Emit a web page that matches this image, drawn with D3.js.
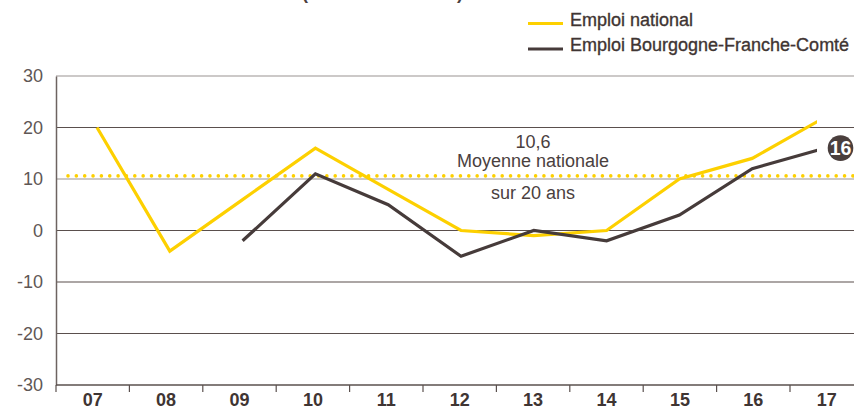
<!DOCTYPE html>
<html>
<head>
<meta charset="utf-8">
<script src="https://cdn.jsdelivr.net/npm/d3@7"></script>
<style>
  body { margin: 0; background: #fff; }
  text { font-family: "Liberation Sans", Arial, sans-serif; }
</style>
</head>
<body>
<div id="chart"></div>
<script>
// Data
var years = ["07", "08", "09", "10", "11", "12", "13", "14", "15", "16", "17"];
var national = [20, -4, 6, 16, 8, 0, -1, 0, 10, 14, 22];
var region = [null, null, -2, 11, 5, -5, 0, -2, 3, 12, 16];
var yTicks = [-30, -20, -10, 0, 10, 20, 30];
var moyenne = 10.6;
var legendLabels = ["Emploi national", "Emploi Bourgogne-Franche-Comté"];

var svgWidth = 854;
var svgHeight = 407;

var yellow = "#fdd000";
var brown = "#463b3a";

var svg = d3.select("#chart")
  .append("svg")
  .attr("width", svgWidth)
  .attr("height", svgHeight);

// Scales
var xBand = d3.scaleBand()
  .domain(years)
  .range([56, 863.4]);

var xPoint = d3.scalePoint()
  .domain(years)
  .range([97, 825]);

var y = d3.scaleLinear()
  .domain([-30, 30])
  .range([385, 76]);

// Partial title (cut at the top of the picture)
svg.append("text")
  .attr("x", 302)
  .attr("y", -1)
  .attr("textLength", 161)
  .attr("lengthAdjust", "spacing")
  .attr("font-size", 18)
  .attr("font-weight", "bold")
  .attr("fill", "#4a403e")
  .text("(en milliers)");

// Grid lines
svg.append("g")
  .selectAll("line")
  .data(yTicks.filter(d => d !== -30))
  .enter()
  .append("line")
  .attr("x1", 56)
  .attr("x2", svgWidth)
  .attr("y1", d => y(d))
  .attr("y2", d => y(d))
  .attr("stroke", d => (d === 30 || d === 10) ? "#9a9392" : "#5a4f4d")
  .attr("stroke-width", 1.2);

// Y axis
var yAxis = d3.axisLeft(y)
  .tickValues(yTicks)
  .tickFormat(d => String(d))
  .tickSize(0)
  .tickPadding(13);

var yAxisG = svg.append("g")
  .attr("transform", "translate(56,0)")
  .call(yAxis);
yAxisG.select(".domain").attr("stroke", "#6d6361").attr("stroke-width", 1.5);
yAxisG.selectAll("text")
  .attr("font-family", "Liberation Sans, Arial, sans-serif")
  .attr("font-size", 18)
  .attr("fill", "#5f5755");

// X axis: ticks at band boundaries, labels at band centres
var xAxisG = svg.append("g");
xAxisG.append("line")
  .attr("x1", 56)
  .attr("x2", svgWidth)
  .attr("y1", y(-30))
  .attr("y2", y(-30))
  .attr("stroke", "#5a504e")
  .attr("stroke-width", 1.5);

xAxisG.selectAll("line.tick")
  .data(years)
  .enter()
  .append("line")
  .attr("class", "tick")
  .attr("x1", d => xBand(d))
  .attr("x2", d => xBand(d))
  .attr("y1", y(-30))
  .attr("y2", y(-30) + 7)
  .attr("stroke", "#5a504e")
  .attr("stroke-width", 1.2);

xAxisG.selectAll("text")
  .data(years)
  .enter()
  .append("text")
  .attr("x", d => xBand(d) + xBand.bandwidth() / 2)
  .attr("y", 406)
  .attr("text-anchor", "middle")
  .attr("font-size", 18)
  .attr("font-weight", "bold")
  .attr("fill", "#3f3533")
  .text(d => d);

// Average line (dotted)
svg.append("line")
  .attr("x1", 60)
  .attr("x2", svgWidth)
  .attr("y1", y(moyenne))
  .attr("y2", y(moyenne))
  .attr("stroke", yellow)
  .attr("stroke-width", 3.6)
  .attr("stroke-linecap", "round")
  .attr("stroke-dasharray", "0 8.35")
  .attr("stroke-dashoffset", -8);

var annot = svg.append("g")
  .attr("font-size", 18)
  .attr("fill", "#4a403e")
  .attr("text-anchor", "middle");
annot.append("text").attr("x", 533).attr("y", y(moyenne) - 28).text("10,6");
annot.append("text").attr("x", 533).attr("y", y(moyenne) - 9).text("Moyenne nationale");
annot.append("text").attr("x", 533).attr("y", y(moyenne) + 23).text("sur 20 ans");

// Lines (the last segment stops short of the 17 position)
svg.append("clipPath")
  .attr("id", "clip")
  .append("rect")
  .attr("x", 0)
  .attr("y", 0)
  .attr("width", xPoint("17") - 8)
  .attr("height", svgHeight);

var line = d3.line()
  .defined(d => d.value !== null)
  .x(d => xPoint(d.year))
  .y(d => y(d.value));

var series = [
  { color: yellow, values: years.map((yr, i) => ({ year: yr, value: national[i] })) },
  { color: brown, values: years.map((yr, i) => ({ year: yr, value: region[i] })) }
];

svg.append("g")
  .attr("clip-path", "url(#clip)")
  .selectAll("path")
  .data(series)
  .enter()
  .append("path")
  .attr("d", d => line(d.values))
  .attr("fill", "none")
  .attr("stroke", d => d.color)
  .attr("stroke-width", 3.2)
  .attr("stroke-linejoin", "miter");

// Final value badge
var last = region[region.length - 1];
svg.append("circle")
  .attr("cx", 840.5)
  .attr("cy", y(last))
  .attr("r", 12.8)
  .attr("fill", "#4a3f3d");
svg.append("text")
  .attr("x", 840.5)
  .attr("y", y(last) + 7)
  .attr("text-anchor", "middle")
  .attr("font-size", 19.5)
  .attr("font-weight", "bold")
  .attr("fill", "#fff")
  .text(d3.format("d")(last));

// Legend
var legend = svg.append("g");
legend.selectAll("line")
  .data(series)
  .enter()
  .append("line")
  .attr("x1", 528)
  .attr("x2", 563)
  .attr("y1", (d, i) => 23.5 + i * 25.5)
  .attr("y2", (d, i) => 23.5 + i * 25.5)
  .attr("stroke", d => d.color)
  .attr("stroke-width", 3);

legend.selectAll("text")
  .data(legendLabels)
  .enter()
  .append("text")
  .attr("x", 570)
  .attr("y", (d, i) => 25.5 + i * 25.5)
  .attr("font-size", 18)
  .attr("fill", "#3f3533")
  .attr("stroke", "#3f3533")
  .attr("stroke-width", 0.35)
  .text(d => d);
</script>
</body>
</html>
